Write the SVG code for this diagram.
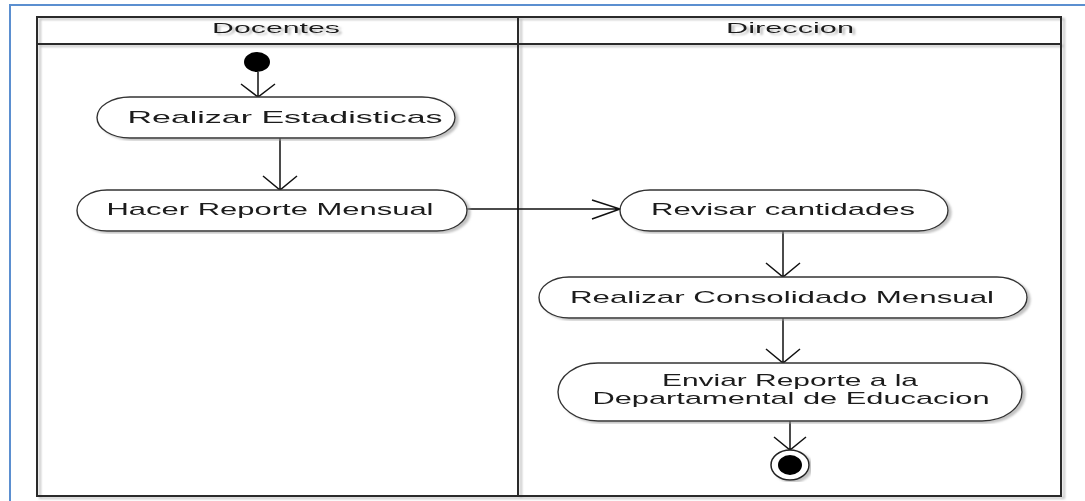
<svg xmlns="http://www.w3.org/2000/svg" width="1085" height="501" viewBox="0 0 1085 501">
  <defs>
    <filter id="shadow" x="-5%" y="-5%" width="110%" height="110%">
      <feDropShadow dx="3" dy="2" stdDeviation="1" flood-color="#999" flood-opacity="0.6"/>
    </filter>
    <style>
      .lane { fill: none; stroke: #2a2a2a; stroke-width: 2; }
      .act { fill: #fff; stroke: #333; stroke-width: 1.4; }
      .lbl { font-family: "Liberation Sans", Arial, sans-serif; font-size: 17px; fill: #1a1a1a; text-anchor: middle; }
      .hdr { font-family: "Liberation Sans", Arial, sans-serif; font-size: 15px; fill: #1a1a1a; text-anchor: middle; }
      .edge { fill: none; stroke: #111; stroke-width: 1.5; }
    </style>
  </defs>
  <rect width="1085" height="501" fill="#fff"/>
  <!-- page frame -->
  <path d="M10,501 V5 H1085" fill="none" stroke="#5b8fd0" stroke-width="2"/>

  <!-- swimlanes -->
  <g id="lanes" filter="url(#shadow)">
    <rect class="lane" x="37" y="17" width="1024" height="479"/>
    <line class="lane" x1="37" y1="44" x2="1061" y2="44"/>
    <line class="lane" x1="518" y1="17" x2="518" y2="496"/>
    <text class="hdr" x="276" y="33" textLength="128" lengthAdjust="spacingAndGlyphs">Docentes</text>
    <text class="hdr" x="790" y="33" textLength="128" lengthAdjust="spacingAndGlyphs">Direccion</text>
  </g>

  <!-- connectors -->
  <g id="connectors">
    <path class="edge" d="M258,72 V97 M241,84 L258,97 L275,84"/>
    <path class="edge" d="M280,138 V190 M263,176 L280,190 L297,176"/>
    <path class="edge" d="M467,209 H620 M592,200 L620,209 L592,219"/>
    <path class="edge" d="M783,231 V277 M766,263 L783,277 L800,263"/>
    <path class="edge" d="M783,318 V363 M766,349 L783,363 L800,349"/>
    <path class="edge" d="M790,421 V450 M774,437 L790,450 L806,437"/>
  </g>

  <g id="start">
    <ellipse cx="257" cy="62" rx="13" ry="10" fill="#000"/>
  </g>

  <g id="realizar-estadisticas" filter="url(#shadow)">
    <rect class="act" x="97" y="97" width="358" height="41" rx="33" ry="20.5"/>
    <text class="lbl" x="285" y="123" textLength="315" lengthAdjust="spacingAndGlyphs">Realizar Estadisticas</text>
  </g>

  <g id="hacer-reporte" filter="url(#shadow)">
    <rect class="act" x="77" y="190" width="390" height="41" rx="30" ry="20.5"/>
    <text class="lbl" x="270" y="215" textLength="327" lengthAdjust="spacingAndGlyphs">Hacer Reporte Mensual</text>
  </g>

  <g id="revisar-cantidades" filter="url(#shadow)">
    <rect class="act" x="620" y="190" width="328" height="41" rx="30" ry="20.5"/>
    <text class="lbl" x="783" y="215" textLength="264" lengthAdjust="spacingAndGlyphs">Revisar cantidades</text>
  </g>

  <g id="consolidado" filter="url(#shadow)">
    <rect class="act" x="539" y="277" width="488" height="41" rx="30" ry="20.5"/>
    <text class="lbl" x="782" y="303" textLength="424" lengthAdjust="spacingAndGlyphs">Realizar Consolidado Mensual</text>
  </g>

  <g id="enviar-reporte" filter="url(#shadow)">
    <rect class="act" x="558" y="363" width="464" height="58" rx="40" ry="29"/>
    <text class="lbl" x="790" y="386" textLength="256" lengthAdjust="spacingAndGlyphs">Enviar Reporte a la</text>
    <text class="lbl" x="791" y="404" textLength="397" lengthAdjust="spacingAndGlyphs">Departamental de Educacion</text>
  </g>

  <g id="end" filter="url(#shadow)">
    <ellipse cx="790" cy="465" rx="19" ry="15" fill="#fff" stroke="#222" stroke-width="1.5"/>
    <ellipse cx="790" cy="465" rx="12" ry="10" fill="#000"/>
  </g>
</svg>
